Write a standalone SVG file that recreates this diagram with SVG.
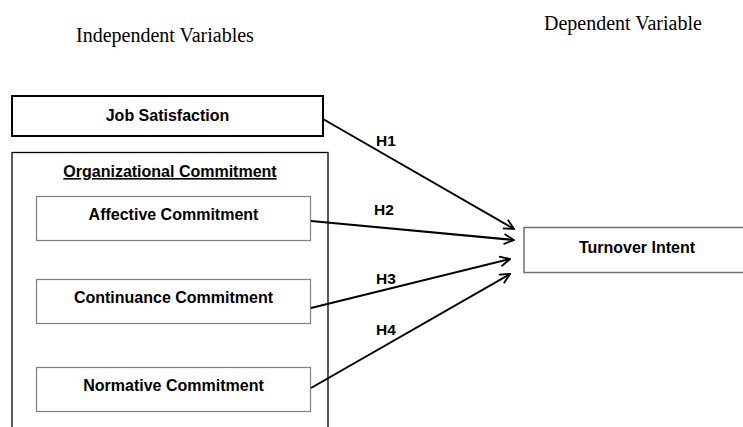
<svg xmlns="http://www.w3.org/2000/svg" width="743" height="427" viewBox="0 0 743 427">
<style>
.hdr{font-family:"Liberation Serif","Times New Roman",serif;font-size:20px;fill:#000}
.lbl{font-family:"Liberation Sans",Arial,sans-serif;font-weight:bold;font-size:16px;fill:#000;text-anchor:middle}
.hl{font-family:"Liberation Sans",Arial,sans-serif;font-weight:bold;font-size:15.5px;fill:#000;text-anchor:middle}
.box{fill:#fff;stroke:#000;stroke-width:2}
.sub{fill:#fff;stroke:#7f7f7f;stroke-width:1.2}
.grp{fill:none;stroke:#000;stroke-width:1.3}
.tgt{fill:#fff;stroke:#6f6f6f;stroke-width:1.5}
.arr{stroke:#000;stroke-width:2;fill:none;marker-end:url(#ah)}
</style>
<defs>
<marker id="ah" viewBox="0 0 12 12" refX="11" refY="6" markerWidth="12" markerHeight="12" markerUnits="userSpaceOnUse" orient="auto">
<path d="M1,1 L11,6 L1,11" fill="none" stroke="#000" stroke-width="1.8"/>
</marker>
</defs>
<rect width="743" height="427" fill="#fff"/>
<text class="hdr" x="76" y="42">Independent Variables</text>
<text class="hdr" x="544" y="30">Dependent Variable</text>

<g id="job-satisfaction">
<rect class="box" x="12" y="96" width="311" height="40"/>
<text class="lbl" x="167.5" y="121">Job Satisfaction</text>
</g>
<g id="organizational-commitment">
<rect class="grp" x="12" y="152.5" width="316" height="290"/>
<text class="lbl" x="170" y="177" text-decoration="underline">Organizational Commitment</text>
</g>
<g id="affective-commitment">
<rect class="sub" x="36.5" y="196.5" width="274" height="44"/>
<text class="lbl" x="173.5" y="220">Affective Commitment</text>
</g>
<g id="continuance-commitment">
<rect class="sub" x="36.5" y="279.5" width="274" height="44"/>
<text class="lbl" x="173.5" y="303">Continuance Commitment</text>
</g>
<g id="normative-commitment">
<rect class="sub" x="36.5" y="367.5" width="274" height="44"/>
<text class="lbl" x="173.5" y="391">Normative Commitment</text>
</g>
<g id="turnover-intent">
<rect class="tgt" x="524" y="227.5" width="230" height="45"/>
<text class="lbl" x="637" y="253">Turnover Intent</text>
</g>

<g id="connectors">
<line class="arr" x1="323" y1="119" x2="514" y2="229"/>
<line class="arr" x1="311" y1="221" x2="514" y2="240"/>
<line class="arr" x1="311" y1="308" x2="510" y2="259"/>
<line class="arr" x1="311" y1="388" x2="510" y2="274"/>
<text class="hl" x="386" y="146">H1</text>
<text class="hl" x="384" y="215">H2</text>
<text class="hl" x="386" y="284">H3</text>
<text class="hl" x="386" y="335">H4</text>
</g>
</svg>
